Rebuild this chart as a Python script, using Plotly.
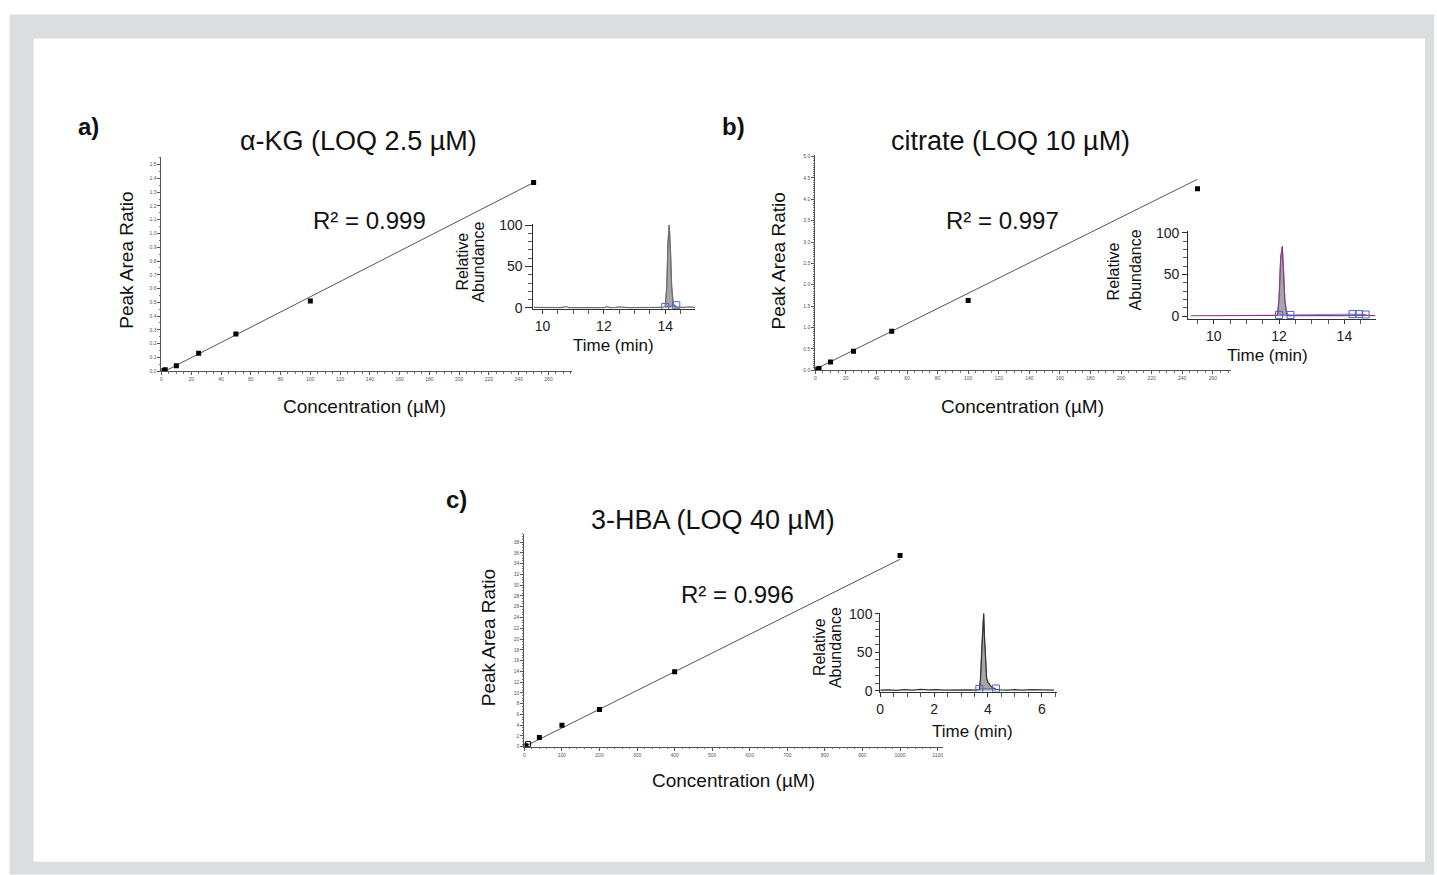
import plotly.graph_objects as go

W, H = 1437, 875

# ---------------- data ----------------
# calibration curves
conc_a = [1, 2.5, 10, 25, 50, 100, 250]
ratio_a = [0.005, 0.01, 0.04, 0.13, 0.27, 0.51, 1.37]
fit_a_x = [2, 250]
fit_a_y = [-0.002, 1.37]

conc_b = [1, 2.5, 10, 25, 50, 100, 250]
ratio_b = [0.02, 0.04, 0.19, 0.44, 0.91, 1.63, 4.25]
fit_b_x = [0, 250]
fit_b_y = [0.02, 4.47]

conc_c = [4, 40, 100, 200, 400, 1000]
ratio_c = [0.2, 1.7, 4.0, 6.9, 13.9, 35.5]
conc_c_open = [10]
ratio_c_open = [0.5]
fit_c_x = [0, 1000]
fit_c_y = [0.0, 34.8]

titles = ["α-KG (LOQ 2.5 µM)", "citrate (LOQ 10 µM)", "3-HBA (LOQ 40 µM)"]
r2_text = ["R² = 0.999", "R² = 0.997", "R² = 0.996"]
panel_tags = ["a)", "b)", "c)"]

# chromatograms (insets)
t_a = [9.72, 10.0, 10.3, 10.6, 10.78, 10.85, 11.1, 11.4, 11.7, 12.0, 12.1, 12.2, 12.4, 12.5,
       12.8, 13.1, 13.3, 13.5, 13.7, 13.9, 14.0, 14.05, 14.09, 14.13, 14.17, 14.21, 14.26,
       14.32, 14.4, 14.5, 14.65, 14.8, 14.98]
i_a = [0.5, 0.3, 0.4, 0.3, 1.6, 0.4, 0.3, 0.5, 0.3, 0.4, 1.5, 0.4, 0.6, 1.2,
       0.4, 0.5, 0.3, 0.9, 0.4, 0.5, 1.5, 25, 80, 100, 70, 25, 5,
       1.5, 0.8, 0.6, 0.5, 1.2, 0.4]
sq_a_t = [14.0, 14.36]
sq_a_i = [1.2, 3.2]

t_b = [9.3, 9.8, 10.3, 10.8, 11.3, 11.7, 11.95, 12.0, 12.05, 12.1, 12.14, 12.18, 12.23,
       12.28, 12.35, 12.6, 13.0, 13.5, 14.0, 14.3, 14.5, 14.7, 14.95]
i_b = [0.5, 0.5, 0.6, 0.5, 0.5, 0.6, 1.0, 20, 70, 84, 55, 18, 4,
       1.0, 0.6, 0.5, 0.5, 0.6, 0.6, 1.2, 1.5, 1.0, 0.5]
sq_b_t = [12.0, 12.35, 14.25, 14.45, 14.65]
sq_b_i = [1.5, 1.5, 2.5, 2.5, 2.0]

t_c = [0.0, 0.3, 0.6, 0.9, 1.2, 1.5, 1.8, 2.1, 2.4, 2.7, 3.0, 3.3, 3.5, 3.68, 3.72, 3.77,
       3.81, 3.84, 3.87, 3.91, 3.95, 4.0, 4.08, 4.18, 4.3, 4.45, 4.7, 5.0, 5.3, 5.6, 5.9,
       6.2, 6.45]
i_c = [0.8, 1.2, 0.6, 1.5, 0.9, 1.8, 1.2, 1.6, 1.0, 1.4, 0.9, 1.3, 0.8, 1.5, 15, 60,
       95, 100, 70, 30, 16, 11, 7, 4, 2, 1.2, 0.8, 1.4, 0.9, 1.5, 1.1,
       1.6, 1.0]
sq_c_t = [3.68, 4.3]
sq_c_i = [2.5, 3.0]

# ---------------- helpers ----------------
# map a target screen pixel to paper fraction (small calibration of the capture)
def dx(p):
    return ((p - 3.5) / 0.9975) / W

def dy(p):
    return 1 - ((p - 5.5) / 0.985) / H

FONT = "Arial, Liberation Sans, sans-serif"
fig = go.Figure()

# ---- main curves ----
def add_main(conc, ratio, fx, fy, ax):
    xa, ya = "x" + ax, "y" + ax
    fig.add_trace(go.Scatter(x=fx, y=fy, mode="lines", line=dict(color="#555555", width=1),
                             xaxis=xa, yaxis=ya, showlegend=False, hoverinfo="skip"))
    fig.add_trace(go.Scatter(x=conc, y=ratio, mode="markers",
                             marker=dict(symbol="square", size=5, color="black"),
                             xaxis=xa, yaxis=ya, showlegend=False))

add_main(conc_a, ratio_a, fit_a_x, fit_a_y, "")
add_main(conc_b, ratio_b, fit_b_x, fit_b_y, "3")
add_main(conc_c, ratio_c, fit_c_x, fit_c_y, "5")
fig.add_trace(go.Scatter(x=conc_c_open, y=ratio_c_open, mode="markers",
                         marker=dict(symbol="square-open", size=5, color="black", line=dict(width=1)),
                         xaxis="x5", yaxis="y5", showlegend=False))

# ---- insets ----
def add_inset(t, inten, sq_t, sq_i, ax, lo, hi, line_color):
    xa, ya = "x" + ax, "y" + ax
    fig.add_trace(go.Scatter(x=t[lo:hi], y=inten[lo:hi], mode="lines", fill="tozeroy",
                             fillcolor="#a6a6a6", line=dict(color="#7a7a7a", width=1),
                             xaxis=xa, yaxis=ya, showlegend=False, hoverinfo="skip"))
    fig.add_trace(go.Scatter(x=t, y=inten, mode="lines", line=dict(color=line_color, width=1.2),
                             xaxis=xa, yaxis=ya, showlegend=False))
    fig.add_trace(go.Scatter(x=sq_t, y=sq_i, mode="markers+lines",
                             marker=dict(symbol="square-open", size=7, color="#4b63c4", line=dict(width=1)),
                             line=dict(color="#4b63c4", width=0.8),
                             xaxis=xa, yaxis=ya, showlegend=False))

add_inset(t_a, i_a, sq_a_t, sq_a_i, "2", 20, 29, "#6e6e6e")
add_inset(t_b, i_b, sq_b_t, sq_b_i, "4", 6, 15, "#8e3a8e")
add_inset(t_c, i_c, sq_c_t, sq_c_i, "6", 13, 25, "#333333")

# ---------------- axes ----------------
def main_axis(dom, rng, dtick, minor_dtick, fmt=None):
    d = dict(domain=dom, range=rng, showline=True, linecolor="#555555", linewidth=1,
             ticks="outside", ticklen=3, tickwidth=1, tickcolor="#555555",
             tickfont=dict(size=5, color="#555555", family=FONT),
             dtick=dtick, tick0=0, showgrid=False, zeroline=False,
             minor=dict(ticks="outside", ticklen=1.5, dtick=minor_dtick, tickcolor="#777777", showgrid=False))
    if fmt:
        d["tickformat"] = fmt
    return d

def inset_axis(dom, rng, tickvals, minor_dtick, xaxis=True, ticklen=None):
    return dict(domain=dom, range=rng, showline=True, linecolor="#333333", linewidth=1,
                ticks="outside", ticklen=(ticklen if ticklen else (4 if xaxis else 7)),
                tickwidth=1, tickcolor="#333333",
                tickfont=dict(size=14, color="#222222", family=FONT),
                tickvals=tickvals, showgrid=False, zeroline=False,
                minor=dict(ticks="outside", ticklen=4, dtick=minor_dtick,
                           tickcolor="#555555", showgrid=False))

def xdom(a, b):
    return [dx(a), dx(b)]

def ydom(bottom, top):
    return [dy(bottom), dy(top)]

layout_axes = {
    "xaxis": main_axis(xdom(161, 572), [0, 276], 20, 5),
    "yaxis": main_axis(ydom(370, 156), [0, 1.553], 0.1, 0.05, ".1f"),
    "xaxis3": main_axis(xdom(815, 1231), [0, 272], 20, 5),
    "yaxis3": main_axis(ydom(369, 154), [0, 5.03], 0.5, 0.05, ".1f"),
    "xaxis5": main_axis(xdom(524, 943), [0, 1115], 100, 20),
    "yaxis5": main_axis(ydom(746, 533), [0, 39.5], 2, 0.5),
    "xaxis2": inset_axis(xdom(533, 695), [9.7, 14.98], [10, 12, 14], 0.5),
    "yaxis2": inset_axis(ydom(308, 223), [-1.6, 101], [0, 50, 100], 10, False),
    "xaxis4": inset_axis(xdom(1188, 1376), [9.22, 14.97], [10, 12, 14], 0.5),
    "yaxis4": inset_axis(ydom(318, 230), [-3.6, 102], [0, 50, 100], 10, False, 5),
    "xaxis6": inset_axis(xdom(880, 1057), [0, 6.57], [0, 2, 4, 6], 0.5),
    "yaxis6": inset_axis(ydom(691, 612), [-1.3, 101], [0, 50, 100], 10, False, 4),
}
for k in ["xaxis2", "xaxis3", "xaxis4", "xaxis5", "xaxis6"]:
    layout_axes[k]["anchor"] = "y" + k[5:]
for k in ["yaxis2", "yaxis3", "yaxis4", "yaxis5", "yaxis6"]:
    layout_axes[k]["anchor"] = "x" + k[5:]
layout_axes["xaxis"]["anchor"] = "y"
layout_axes["yaxis"]["anchor"] = "x"

# ---------------- annotations ----------------
ann = []

def txt(x, y, s, size, bold=False, angle=0, color="#111111", xanchor="center"):
    ann.append(dict(x=dx(x), y=dy(y), xref="paper", yref="paper", text=("<b>%s</b>" % s if bold else s),
                    showarrow=False, xanchor=xanchor, yanchor="middle", textangle=angle,
                    font=dict(size=size, family=FONT, color=color)))

# panel tags
txt(88, 125, panel_tags[0], 24, bold=True)
txt(733, 125, panel_tags[1], 24, bold=True)
txt(456, 498, panel_tags[2], 24, bold=True)
# titles (anchored at right edge)
txt(479, 140, titles[0], 27, xanchor="right")
txt(1132, 140, titles[1], 27, xanchor="right")
txt(837, 519, titles[2], 27, xanchor="right")
# R^2 (anchored at left edge)
txt(311, 219, r2_text[0], 24, xanchor="left")
txt(944, 219, r2_text[1], 24, xanchor="left")
txt(679, 594, r2_text[2], 24, xanchor="left")
# axis titles main
txt(126, 259, "Peak Area Ratio", 19, angle=-90)
txt(778, 260, "Peak Area Ratio", 19, angle=-90)
txt(488, 637, "Peak Area Ratio", 19, angle=-90)
txt(364, 405, "Concentration (µM)", 19)
txt(1022, 405, "Concentration (µM)", 19)
txt(733, 780, "Concentration (µM)", 19)
# inset titles
txt(462, 260, "Relative", 16, angle=-90)
txt(478, 261, "Abundance", 16, angle=-90)
txt(1113, 270, "Relative", 16, angle=-90)
txt(1135, 269, "Abundance", 16, angle=-90)
txt(820, 646, "Relative", 16, angle=-90)
txt(836, 647, "Abundance", 16, angle=-90)
txt(613, 344, "Time (min)", 17)
txt(1267, 354, "Time (min)", 17)
txt(972, 731, "Time (min)", 17)

# ---------------- frame ----------------
shapes = [
    dict(type="rect", xref="paper", yref="paper", x0=dx(9), x1=dx(1434), y0=dy(874), y1=dy(13),
         fillcolor="#dcdddf", line=dict(width=0), layer="below"),
    dict(type="rect", xref="paper", yref="paper", x0=dx(33), x1=dx(1425), y0=dy(861), y1=dy(37),
         fillcolor="white", line=dict(width=0), layer="below"),
]

fig.update_layout(width=W, height=H, margin=dict(l=0, r=0, t=0, b=0),
                  paper_bgcolor="white", plot_bgcolor="rgba(0,0,0,0)",
                  annotations=ann, shapes=shapes, showlegend=False,
                  font=dict(family=FONT), **layout_axes)

fig.write_html("out.html", config={"displayModeBar": False},
               post_script="document.body.style.margin='0';document.body.style.overflow='hidden';")
